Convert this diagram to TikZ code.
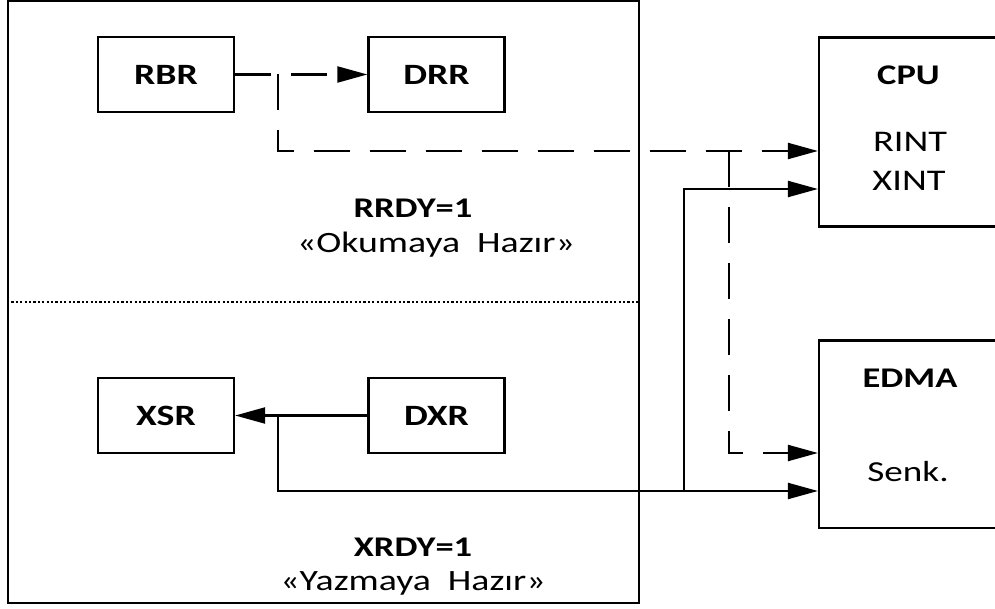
\documentclass[tikz,border=0pt]{standalone}
\usepackage{fontspec}
\setmainfont{Carlito}[FakeStretch=1.28]
\usetikzlibrary{arrows.meta}
\begin{document}
\begin{tikzpicture}[x=1pt,y=-1pt,
  box/.style={draw,line width=2.3pt,minimum width=136pt,minimum height=75pt,inner sep=0pt,
    font=\fontsize{29.5}{34}\selectfont\bfseries},
  unit/.style={draw,line width=2.2pt,minimum width=191pt,inner sep=0pt},
  ln/.style={line width=2.1pt},
  dsh/.style={line width=2.1pt,dash pattern=on 36pt off 20pt},
  tip/.style={-{Triangle[length=30pt,width=16pt]}},
  lbl/.style={anchor=base,inner sep=0pt},
  bl/.style={lbl,font=\fontsize{28.5}{33}\selectfont\bfseries},
  rl/.style={lbl,font=\fontsize{29.5}{34}\selectfont}]
\clip (0,0) rectangle (995,609);
% outer frame and separator
\node[draw,line width=2pt,minimum width=631pt,minimum height=602pt,inner sep=0pt] (outer) at (323.5,302) {};
\draw[line width=1.6pt,dash pattern=on 2.2pt off 2.2pt] (outer.west) -- (outer.east);
% registers
\node[box] (RBR) at (166,74.5) {RBR};
\node[box] (DRR) at (436.5,74.5) {DRR};
\node[box] (XSR) at (166,415.5) {XSR};
\node[box] (DXR) at (436.5,415.5) {DXR};
% units on the right
\node[unit,minimum height=189pt] (CPU) at (914.5,132) {};
\node[unit,minimum height=187.5pt] (EDMA) at (914.5,434.25) {};
% labels
\node[bl,font=\fontsize{28.5}{32}\selectfont\bfseries] (rrdy) at (413,218) {RRDY=1};
\node[rl] (okuma) at (436,253) {«Okumaya~~Hazır»};
\node[bl,font=\fontsize{28.5}{32}\selectfont\bfseries] (xrdy) at (413,556) {XRDY=1};
\node[rl] (yazma) at (413,590) {«Yazmaya~~Hazır»};
\node[bl] (cpu) at (908.5,85) {CPU};
\node[rl,font=\fontsize{30}{34}\selectfont] (rint) at (910,152) {RINT};
\node[rl,font=\fontsize{30}{34}\selectfont] (xint) at (909,190.5) {XINT};
\node[bl] (edma) at (910,387.5) {EDMA};
\node[rl,font=\fontsize{29}{34}\selectfont] (senk) at (908,481.5) {Senk.};
% connector points
\coordinate (jR) at (278,74.5);
\coordinate (cR) at (278,151);
\coordinate (jD) at (729,151);
\coordinate (cD) at (729,453);
\coordinate (jX) at (278,415.5);
\coordinate (cX) at (278,491);
\coordinate (jS) at (684,491);
\coordinate (cS) at (684,189);
% connectors
\draw[dsh,tip] (RBR) -- (DRR);
\draw[dsh,tip] (jR) -- (cR) -- (cR -| CPU.west);
\draw[dsh,tip] (jD) -- (cD) -- (cD -| EDMA.west);
\draw[ln,tip] (DXR) -- (XSR);
\draw[ln,tip] (jX) -- (cX) -- (cX -| EDMA.west);
\draw[ln,tip] (jS) -- (cS) -- (cS -| CPU.west);
\end{tikzpicture}
\end{document}
